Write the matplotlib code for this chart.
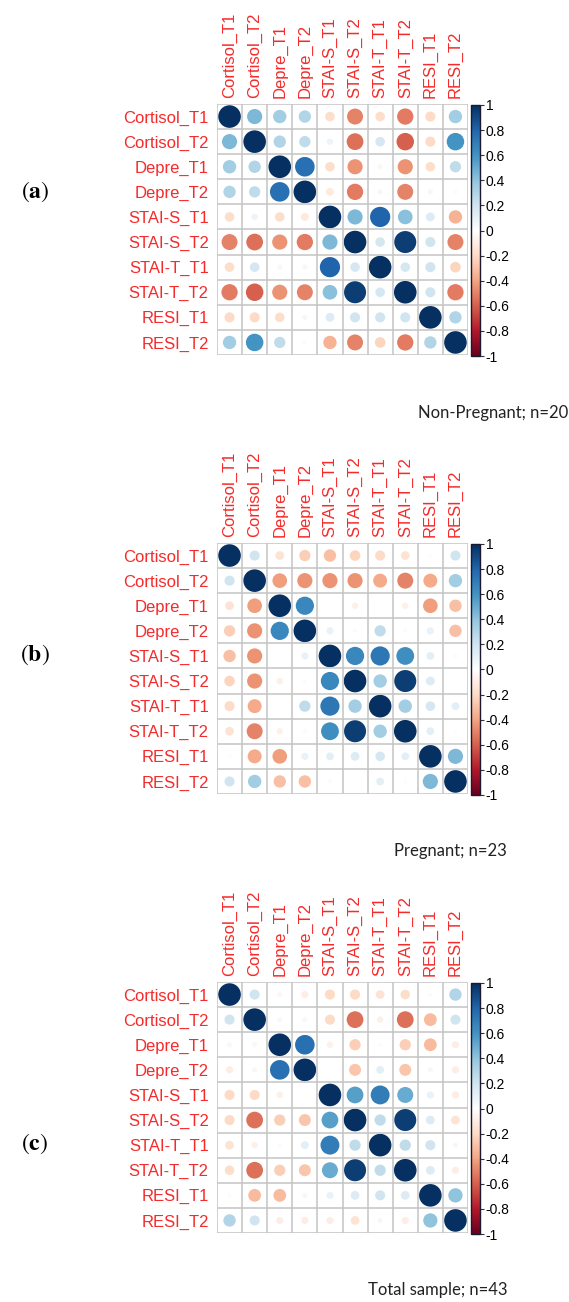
import matplotlib
matplotlib.use('Agg')
import matplotlib.pyplot as plt
import numpy as np
from matplotlib.colors import LinearSegmentedColormap, Normalize
from matplotlib.patches import Circle
import matplotlib.cm as cm

plt.rcParams['font.family'] = ['Liberation Sans', 'DejaVu Sans']

variables = ['Cortisol_T1', 'Cortisol_T2', 'Depre_T1', 'Depre_T2', 'STAI-S_T1',
             'STAI-S_T2', 'STAI-T_T1', 'STAI-T_T2', 'RESI_T1', 'RESI_T2']

# Non-Pregnant; n=20
corr_a = [
    [1, .45, .35, .30, -.18, -.50, -.18, -.52, -.20, .35],
    [.45, 1, .30, .25, .08, -.55, .18, -.60, -.20, .60],
    [.35, .30, 1, .75, -.18, -.45, -.05, -.45, -.18, .25],
    [.30, .25, .75, 1, -.12, -.52, .05, -.50, .05, .03],
    [-.18, .08, -.18, -.12, 1, .45, .80, .42, .15, -.35],
    [-.50, -.55, -.45, -.52, .45, 1, .18, .95, .20, -.50],
    [-.18, .18, -.05, .05, .80, .18, 1, .18, .20, -.22],
    [-.52, -.60, -.45, -.50, .42, .95, .18, 1, .20, -.52],
    [-.20, -.20, -.18, .05, .15, .20, .20, .20, 1, .30],
    [.35, .60, .25, .03, -.35, -.50, -.22, -.52, .30, 1],
]

# Pregnant; n=23
corr_b = [
    [1, .20, -.15, -.25, -.30, -.22, -.20, -.15, .02, .20],
    [.20, 1, -.42, -.45, -.45, -.45, -.38, -.50, -.38, .35],
    [-.15, -.42, 1, .65, .0, -.08, .0, -.08, -.42, -.30],
    [-.25, -.45, .65, 1, .10, .03, .25, .03, .10, -.30],
    [-.30, -.45, .0, .10, 1, .65, .72, .62, .12, -.03],
    [-.22, -.45, -.08, .03, .65, 1, .35, .95, .15, .0],
    [-.20, -.38, .0, .25, .72, .35, 1, .35, .18, .12],
    [-.15, -.50, -.08, .03, .62, .95, .35, 1, .12, .02],
    [.02, -.38, -.42, .10, .12, .15, .18, .12, 1, .45],
    [.20, .35, -.30, -.30, -.03, .0, .12, .02, .45, 1],
]

# Total sample; n=43
corr_c = [
    [1, .20, -.05, -.10, -.20, -.20, -.15, -.18, -.03, .30],
    [.20, 1, -.05, -.05, -.20, -.55, -.08, -.55, -.32, .20],
    [-.05, -.05, 1, .75, -.08, -.25, -.03, -.25, -.32, -.10],
    [-.10, -.05, .75, 1, .0, -.28, .12, -.28, .05, -.10],
    [-.20, -.20, -.08, .0, 1, .55, .70, .50, .10, -.10],
    [-.20, -.55, -.25, -.28, .55, 1, .25, .95, .15, -.15],
    [-.15, -.08, -.03, .12, .70, .25, 1, .25, .20, .05],
    [-.18, -.55, -.25, -.28, .50, .95, .25, 1, .15, -.10],
    [-.03, -.32, -.32, .05, .10, .15, .20, .15, 1, .40],
    [.30, .20, -.10, -.10, -.10, -.15, .05, -.10, .40, 1],
]

panel_tags = ['a', 'b', 'c']
captions = ['Non-Pregnant; n=20', 'Pregnant; n=23', 'Total sample; n=43']
cbar_ticks = [1, 0.8, 0.6, 0.4, 0.2, 0, -0.2, -0.4, -0.6, -0.8, -1]
cbar_labels = ['1', '0.8', '0.6', '0.4', '0.2', '0', '-0.2', '-0.4', '-0.6', '-0.8', '-1']

# corrplot RdBu palette
rdbu = LinearSegmentedColormap.from_list('corrRdBu', ["#67001F", "#B2182B", "#D6604D", "#F4A582", "#FDDBC7",
                                                      "#FFFFFF", "#D1E5F0", "#92C5DE", "#4393C3", "#2166AC", "#053061"])
norm = Normalize(-1, 1)

W, H = 569, 1302
fig = plt.figure(figsize=(W / 100, H / 100), dpi=100)

def px_axes(x0, y0, w, h):
    return fig.add_axes([x0 / W, 1 - (y0 + h) / H, w / W, h / H])

grid_tops = [104, 543, 982]
tag_y = [192, 655, 1144]
cap_pos = [(568, 413), (507, 851), (507, 1290)]
label_red = '#f52a2a'

for k, mat in enumerate([corr_a, corr_b, corr_c]):
    mat = np.array(mat)
    n = len(variables)
    ax = px_axes(217, grid_tops[k], 251, 251)
    ax.set_xlim(0, n)
    ax.set_ylim(n, 0)
    for i in range(n):
        for j in range(n):
            r = mat[i, j]
            ax.add_patch(Circle((j + 0.5, i + 0.5), 0.45 * np.sqrt(abs(r)),
                                facecolor=rdbu(norm(r)), edgecolor='none'))
    for g in range(n + 1):
        ax.axhline(g, color='#c4c4c4', lw=1.1, zorder=3)
        ax.axvline(g, color='#c4c4c4', lw=1.1, zorder=3)
    for s in ax.spines.values():
        s.set_visible(False)
    ax.xaxis.tick_top()
    ax.set_xticks(np.arange(n) + 0.5)
    ax.set_xticklabels(variables, rotation=90, color=label_red, fontsize=12)
    ax.set_yticks(np.arange(n) + 0.5)
    ax.set_yticklabels(variables, color=label_red, fontsize=12)
    ax.tick_params(length=0)
    ax.tick_params(axis='x', pad=4)
    ax.tick_params(axis='y', pad=6)

    cax = px_axes(471, grid_tops[k] + 1, 9, 251)
    cb = fig.colorbar(cm.ScalarMappable(norm=norm, cmap=rdbu), cax=cax)
    cb.set_ticks(cbar_ticks)
    cb.set_ticklabels(cbar_labels)
    cb.outline.set_edgecolor('#1a1a2e')
    cb.outline.set_linewidth(1)
    cax.tick_params(length=3, width=0.8, color='#333333', labelsize=10, pad=1)

    fig.text(35 / W, 1 - tag_y[k] / H, '(' + r'$\mathbf{' + panel_tags[k] + '}$' + ')',
             ha='center', va='center', fontsize=17, family='STIXGeneral',
             math_fontfamily='stix')
    fig.text(cap_pos[k][0] / W, 1 - cap_pos[k][1] / H, captions[k], ha='right', va='center',
             fontsize=12, family='Lato', color='#222222')

fig.savefig('out.png', dpi=100)
